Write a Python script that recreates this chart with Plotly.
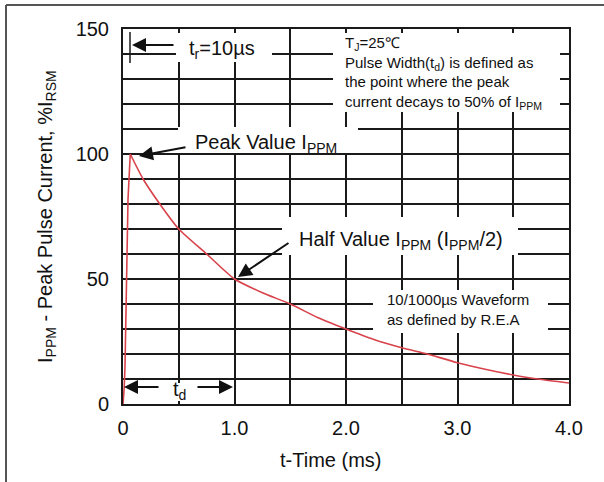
import plotly.graph_objects as go

# ---- data ----
rise_t = [0, 0.01, 0.018, 0.027, 0.045, 0.065]
rise_v = [0, 6, 15, 42, 82, 100]
decay_t = [0.065, 0.18, 0.33, 0.5, 0.75, 1.0, 1.25, 1.5, 1.75, 2.0, 2.25, 2.5, 2.73, 3.0, 3.5, 3.72, 4.0]
decay_v = [100, 90, 80, 70, 60, 50, 44.5, 40, 34.5, 30, 25.8, 22.5, 20, 16.5, 11.6, 10, 8.4]

x_tickvals = [0, 0.5, 1.0, 1.5, 2.0, 2.5, 3.0, 3.5, 4.0]
x_ticktext = ["0", "", "1.0", "", "2.0", "", "3.0", "", "4.0"]
y_tickvals = list(range(0, 151, 10))
y_ticktext = [str(v) if v % 50 == 0 else "" for v in y_tickvals]

# ---- layout geometry (pixels) ----
W, H = 604, 482
L, R, T, B = 123, 569, 29, 404
def t_of(px):
    return (px - L) / (R - L) * 4.0
def v_of(py):
    return (B - py) / (B - T) * 150.0

FONT = "Liberation Sans, Arial, sans-serif"
INK = "#111111"
RED = "#d8434b"
GRID = "#1a1a1a"

fig = go.Figure()
fig.add_trace(go.Scatter(x=rise_t, y=rise_v, mode="lines",
                         line=dict(color=RED, width=1.6), hoverinfo="skip"))
fig.add_trace(go.Scatter(x=decay_t, y=decay_v, mode="lines",
                         line=dict(color=RED, width=1.6, shape="spline", smoothing=0.6),
                         hoverinfo="skip"))

shapes = []
# white boxes behind texts (occlude grid)
for (x0, y0, x1, y1) in [(176, 33, 272, 62), (333, 33, 560, 112), (178, 127, 358, 153),
                         (282, 217, 518, 255), (373, 290, 548, 333), (163, 383, 197, 401)]:
    shapes.append(dict(type="rect", xref="x", yref="y", x0=t_of(x0), x1=t_of(x1),
                       y0=v_of(y1), y1=v_of(y0), fillcolor="white",
                       line=dict(width=0), layer="above"))
# rise-time marker
shapes.append(dict(type="line", xref="x", yref="y", x0=t_of(130), x1=t_of(130),
                   y0=v_of(63), y1=v_of(32), line=dict(color=GRID, width=1.5), layer="above"))
# outer frame
fx0 = (6 - L) / (R - L)
fy1 = (B - 5) / (B - T)
shapes.append(dict(type="line", xref="paper", yref="paper", x0=fx0, x1=2, y0=fy1, y1=fy1,
                   line=dict(color="#555555", width=2)))
shapes.append(dict(type="line", xref="paper", yref="paper", x0=fx0, x1=fx0, y0=fy1, y1=-2,
                   line=dict(color="#555555", width=2)))

ann = []
def text(px, py, s, size=20, xanchor="center", align="center"):
    ann.append(dict(x=t_of(px), y=v_of(py), xref="x", yref="y", text=s, showarrow=False,
                    xanchor=xanchor, yanchor="middle", align=align,
                    font=dict(family=FONT, size=size, color=INK)))
def arrow(hx, hy, tx, ty):
    ann.append(dict(x=t_of(hx), y=v_of(hy), xref="x", yref="y", ax=tx - hx, ay=ty - hy,
                    text="", showarrow=True, arrowhead=2, arrowsize=1.4, arrowwidth=2,
                    arrowcolor=INK, standoff=0, startstandoff=0))

text(222, 49, "t<sub>r</sub>=10µs")
text(343, 73, "T<sub>J</sub>=25℃<br>Pulse Width(t<sub>d</sub>) is defined as<br>"
     "the point where the peak<br>current decays to 50% of I<sub>PPM</sub>",
     size=15, xanchor="left", align="left")
text(193, 143, "Peak Value I<sub>PPM</sub>", xanchor="left")
text(297, 240, "Half Value I<sub>PPM</sub> (I<sub>PPM</sub>/2)", xanchor="left")
text(385, 309, "10/1000µs Waveform<br>as defined by R.E.A", size=15, xanchor="left", align="left")
text(179, 390, "t<sub>d</sub>")

arrow(121, 45, 71, 45)
arrow(132, 45, 175, 45)
arrow(139, 156, 187, 147)
arrow(238, 277, 290, 242)
arrow(124, 387, 160, 387)
arrow(233, 387, 196, 387)

# axis titles
ann.append(dict(x=(330 - L) / (R - L), y=(B - 460) / (B - T), xref="paper", yref="paper",
                text="t-Time (ms)", showarrow=False, xanchor="center", yanchor="middle",
                font=dict(family=FONT, size=20, color=INK)))
ann.append(dict(x=(46 - L) / (R - L), y=(B - 217) / (B - T), xref="paper", yref="paper",
                text="I<sub>PPM</sub> - Peak Pulse Current, %I<sub>RSM</sub>", textangle=-90,
                showarrow=False, xanchor="center", yanchor="middle",
                font=dict(family=FONT, size=20, color=INK)))

fig.update_layout(
    width=W, height=H,
    margin=dict(l=L, r=W - R, t=T, b=H - B),
    paper_bgcolor="white", plot_bgcolor="white",
    showlegend=False,
    shapes=shapes, annotations=ann,
    font=dict(family=FONT, size=20, color=INK),
    xaxis=dict(range=[0, 4], tickvals=x_tickvals, ticktext=x_ticktext,
               showgrid=True, gridcolor=GRID, gridwidth=2, zeroline=False,
               showline=True, linecolor=GRID, linewidth=2, mirror=True,
               ticks="", ticklabelstandoff=5, fixedrange=True),
    yaxis=dict(range=[0, 150], tickvals=y_tickvals, ticktext=y_ticktext,
               showgrid=True, gridcolor=GRID, gridwidth=2, zeroline=False,
               showline=True, linecolor=GRID, linewidth=2, mirror=True,
               ticks="", ticklabelstandoff=8, fixedrange=True),
)

fig.write_html("out.html", config={"displayModeBar": False},
               post_script="document.body.style.margin='0';")
